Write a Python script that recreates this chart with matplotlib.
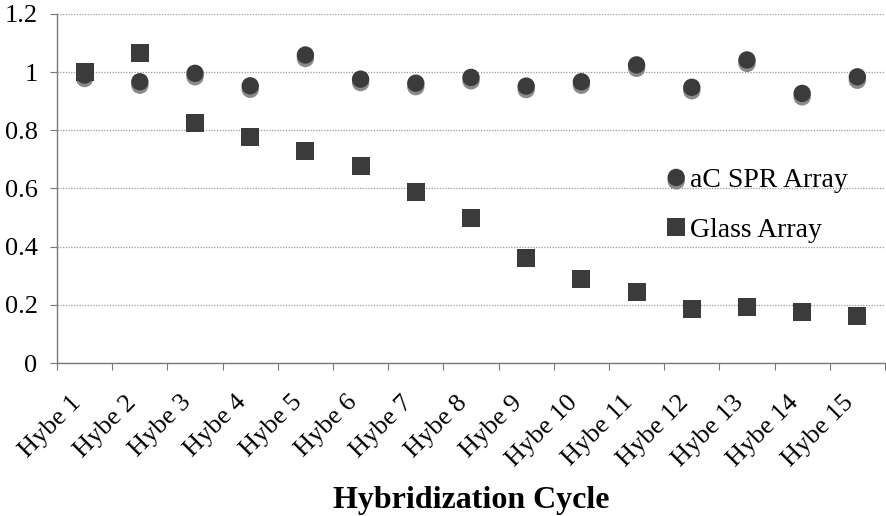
import matplotlib
matplotlib.use("Agg")
import matplotlib.pyplot as plt
import matplotlib.patheffects as pe
import matplotlib.transforms as mtransforms

categories = ["Hybe 1", "Hybe 2", "Hybe 3", "Hybe 4", "Hybe 5", "Hybe 6", "Hybe 7", "Hybe 8",
              "Hybe 9", "Hybe 10", "Hybe 11", "Hybe 12", "Hybe 13", "Hybe 14", "Hybe 15"]
spr_array = [0.99, 0.967, 0.996, 0.953, 1.059, 0.976, 0.962, 0.982, 0.952, 0.967,
             1.025, 0.948, 1.042, 0.927, 0.984]
glass_array = [1.0, 1.065, 0.826, 0.778, 0.729, 0.677, 0.588, 0.499, 0.361, 0.289,
               0.244, 0.186, 0.193, 0.175, 0.162]
yticks = [0, 0.2, 0.4, 0.6, 0.8, 1.0, 1.2]
ytick_labels = ["0", "0.2", "0.4", "0.6", "0.8", "1", "1.2"]

plt.rcParams['font.family'] = ['Liberation Serif', 'DejaVu Serif']

fig = plt.figure(figsize=(8.87, 5.16), dpi=100)
ax = fig.add_axes([0.0643, 0.2965, 0.9334, 0.6764])

x = list(range(1, len(categories) + 1))
mcol = '#3b3b3b'
shadow = [pe.SimplePatchShadow(offset=(0, -2.5), shadow_rgbFace='#8a8a8a', alpha=1.0), pe.Normal()]

l1, = ax.plot(x, spr_array, linestyle='none', marker='o', markersize=12.5,
              markerfacecolor=mcol, markeredgecolor=mcol, markeredgewidth=0,
              label='aC SPR Array', zorder=3, path_effects=shadow)
l2, = ax.plot(x, glass_array, linestyle='none', marker='s', markersize=13.5,
              markerfacecolor=mcol, markeredgecolor=mcol, markeredgewidth=0,
              label='Glass Array', zorder=4)

ax.set_xlim(0.5, len(categories) + 0.5)
ax.set_ylim(0, 1.2)

ax.set_yticks(yticks)
ax.set_yticklabels(ytick_labels, fontsize=19)
ax.yaxis.grid(True, linestyle=(0, (1, 1.2)), color='#9a9a9a', linewidth=0.9)
ax.set_axisbelow(True)

# category boundaries as major ticks, labels at centres
ax.set_xticks([i + 0.5 for i in range(0, len(categories) + 1)])
ax.set_xticklabels([])
ax.set_xticks(x, minor=True)
ax.set_xticklabels(categories, minor=True, rotation=45, ha='right', va='center',
                   rotation_mode='anchor', fontsize=19)
ax.tick_params(axis='x', which='minor', length=0, pad=26)
ax.tick_params(axis='x', which='major', length=5, direction='out', color='#777777', width=0.8)
ax.tick_params(axis='y', length=5, direction='out', color='#777777', width=0.8, pad=9)
shift = mtransforms.ScaledTranslation(-7 / 100, 0, fig.dpi_scale_trans)
for lab in ax.get_xticklabels(minor=True):
    lab.set_transform(lab.get_transform() + shift)

for s in ['top', 'right']:
    ax.spines[s].set_visible(False)
for s in ['left', 'bottom']:
    ax.spines[s].set_color('#7a7a7a')
    ax.spines[s].set_linewidth(1.0)

ax.set_xlabel('Hybridization Cycle', fontsize=23, fontweight='bold', labelpad=11)

leg = ax.legend(handles=[l1, l2], loc='center left', bbox_to_anchor=(0.721, 0.452),
                frameon=False, fontsize=20, labelspacing=0.87, handletextpad=0.1,
                handlelength=0.8, borderaxespad=0)

fig.savefig('out.png', dpi=100)
